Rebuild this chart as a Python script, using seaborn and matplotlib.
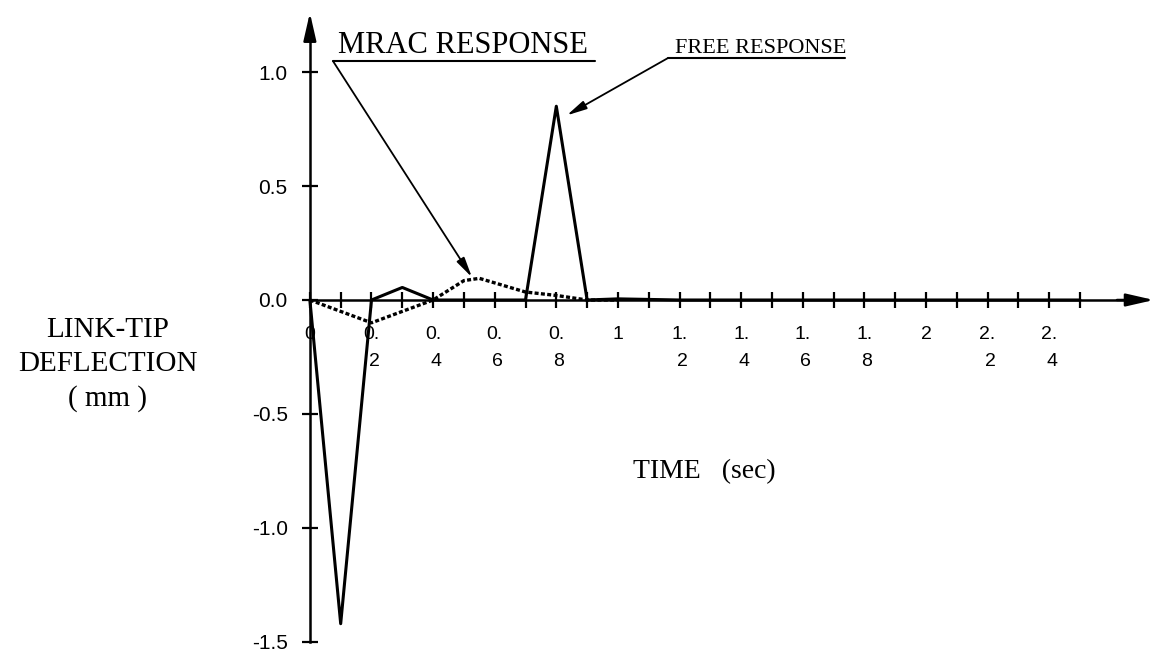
"""Link-tip deflection: free response vs MRAC response."""

import matplotlib

matplotlib.use("Agg")
import matplotlib.pyplot as plt
import pandas as pd
import seaborn as sns

# values
FREE_TIME = [0.0, 0.1, 0.2, 0.3, 0.4, 0.5, 0.6, 0.7, 0.8, 0.9, 1.0, 1.2, 1.4, 1.6, 1.8, 2.0, 2.2, 2.4, 2.5]
FREE_DEFLECTION = [0.0, -1.42, 0.0, 0.055, 0.0, 0.0, 0.0, 0.0, 0.85, 0.0, 0.005, 0.0, 0.0, 0.0, 0.0, 0.0, 0.0, 0.0, 0.0]

MRAC_TIME = [0.0, 0.1, 0.2, 0.3, 0.4, 0.5, 0.55, 0.6, 0.7, 0.8, 0.9, 1.0]
MRAC_DEFLECTION = [0.0, -0.05, -0.10, -0.05, 0.0, 0.085, 0.095, 0.075, 0.035, 0.02, 0.0, 0.0]

X_TICKS = [0.0, 0.2, 0.4, 0.6, 0.8, 1.0, 1.2, 1.4, 1.6, 1.8, 2.0, 2.2, 2.4]
X_TICK_LABELS = ["0", "0.\n2", "0.\n4", "0.\n6", "0.\n8", "1", "1.\n2", "1.\n4", "1.\n6", "1.\n8", "2", "2.\n2", "2.\n4"]
X_MINOR_TICKS = [0.1, 0.3, 0.5, 0.7, 0.9, 1.1, 1.3, 1.5, 1.7, 1.9, 2.1, 2.3, 2.5]
Y_TICKS = [-1.5, -1.0, -0.5, 0.0, 0.5, 1.0]
Y_TICK_LABELS = ["-1.5", "-1.0", "-0.5", "0.0", "0.5", "1.0"]

SERIF = "Liberation Serif"
SANS = "Liberation Sans"

sns.set_theme(style="ticks")
plt.rcParams["font.family"] = [SANS, "DejaVu Sans"]
plt.rcParams["text.color"] = "black"

free_df = pd.DataFrame({"time": FREE_TIME, "deflection": FREE_DEFLECTION})
mrac_df = pd.DataFrame({"time": MRAC_TIME, "deflection": MRAC_DEFLECTION})

fig = plt.figure(figsize=(11.65, 6.62), dpi=100)
ax = fig.add_axes([0, 0, 1, 1])
ax.set_xlim(-1.006, 2.776)
ax.set_ylim(-1.588, 1.316)

sns.lineplot(data=free_df, x="time", y="deflection", ax=ax, color="black",
             linewidth=2.2, estimator=None, sort=False)
sns.lineplot(data=mrac_df, x="time", y="deflection", ax=ax, color="black",
             linewidth=2.4, linestyle=(0, (1.2, 0.7)), estimator=None, sort=False)

# axes drawn through the origin, with arrow heads
for side in ("top", "right"):
    ax.spines[side].set_visible(False)
ax.spines["left"].set_position(("data", 0))
ax.spines["bottom"].set_position(("data", 0))
ax.spines["left"].set_bounds(-1.5, 1.18)
ax.spines["bottom"].set_bounds(0, 2.65)
for side in ("left", "bottom"):
    ax.spines[side].set_linewidth(1.8)
    ax.spines[side].set_color("black")
arrow = dict(arrowstyle="-|>,head_length=1.4,head_width=0.32", color="black",
             lw=1.8, shrinkA=0, shrinkB=0)
ax.annotate("", xy=(0, 1.26), xytext=(0, 1.15), arrowprops=arrow)
ax.annotate("", xy=(2.74, 0), xytext=(2.62, 0), arrowprops=arrow)

ax.set_xticks(X_TICKS)
ax.set_xticklabels(X_TICK_LABELS, fontsize=14, linespacing=1.75,
                   multialignment="right")
ax.set_xticks(X_MINOR_TICKS, minor=True)
ax.set_yticks(Y_TICKS)
ax.set_yticklabels(Y_TICK_LABELS, fontsize=15)
ax.tick_params(axis="both", which="both", direction="inout", length=12,
               width=1.6, color="black", labelcolor="black",
               bottom=True, left=True, top=False, right=False)
ax.tick_params(axis="x", which="major", pad=13)
ax.tick_params(axis="y", which="major", pad=10)
ax.set_xlabel("")
ax.set_ylabel("")

# axis titles
ax.text(0.0927, 0.449, "LINK-TIP\nDEFLECTION\n( mm )", transform=ax.transAxes,
        ha="center", va="center", fontsize=21, family=SERIF, linespacing=1.4)
ax.text(1.282, -0.754, "TIME   (sec)", ha="center", va="center", fontsize=20,
        family=SERIF)

# callouts
pointer = dict(arrowstyle="-|>,head_length=1.0,head_width=0.22", color="black",
               lw=1.3, shrinkA=0, shrinkB=0)
ax.text(0.091, 1.083, "MRAC RESPONSE", ha="left", va="baseline", fontsize=22,
        family=SERIF)
ax.plot([0.075, 0.925], [1.048, 1.048], color="black", lw=1.5)
ax.annotate("", xy=(0.526, 0.10), xytext=(0.075, 1.048), arrowprops=pointer)

ax.text(1.185, 1.083, "FREE RESPONSE", ha="left", va="baseline", fontsize=16,
        family=SERIF)
ax.plot([1.162, 1.737], [1.061, 1.061], color="black", lw=1.5)
ax.annotate("", xy=(0.834, 0.81), xytext=(1.162, 1.061), arrowprops=pointer)

fig.savefig("out.png", dpi=100)
